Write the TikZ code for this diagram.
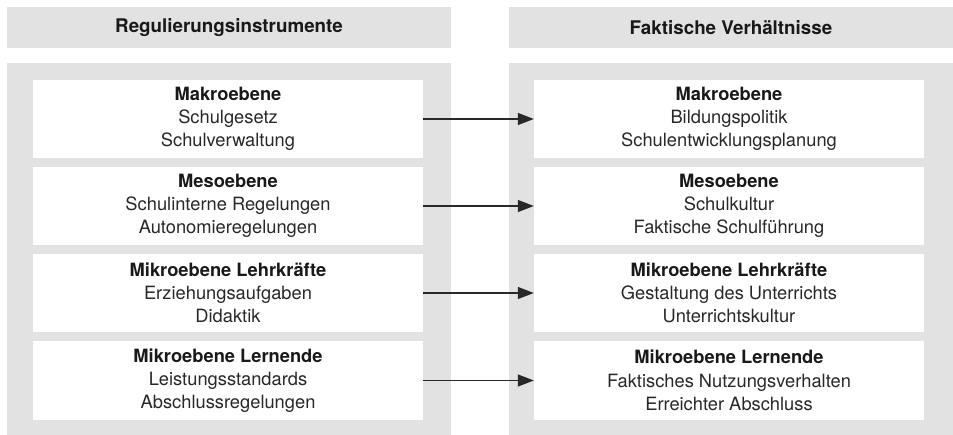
\documentclass[tikz,border=0pt]{standalone}
\usepackage{fontspec}
\setmainfont{TeX Gyre Heros}
\usetikzlibrary{arrows.meta}
\definecolor{panelgrey}{RGB}{226,226,226}
\definecolor{txtgrey}{RGB}{40,40,40}
\definecolor{arrowgrey}{RGB}{40,40,40}
\tikzset{
  panel/.style={fill=panelgrey, draw=none},
  headbox/.style={fill=panelgrey, draw=none, minimum width=444pt, minimum height=41pt, inner sep=0pt,
    font=\fontsize{18.8}{23}\selectfont\bfseries, text=black!90},
  levelbox/.style={fill=white, draw=none, minimum width=390pt, minimum height=78pt, inner sep=0pt,
    align=center, font=\fontsize{18.3}{23.2}\selectfont, text=txtgrey},
  link/.style={draw=arrowgrey, line width=1.3pt, -{Triangle[length=16pt,width=12pt]}}
}
\newcommand{\ttl}[1]{{\bfseries\color{black!90}#1}}
\begin{document}
\begin{tikzpicture}[x=1pt,y=-1pt]
\useasboundingbox (0,0) rectangle (953,435);
% headers
\node[headbox] (hl) at (229,27.5) {Regulierungsinstrumente};
\node[headbox] (hr) at (731,27.5) {Faktische Verhältnisse};
% column panels
\fill[panel] (7,63) rectangle (451,435);
\fill[panel] (509,63) rectangle (953,435);
% left boxes
\node[levelbox] (l1) at (228,119) {\ttl{Makroebene}\\Schulgesetz\\Schulverwaltung};
\node[levelbox] (l2) at (228,206) {\ttl{Mesoebene}\\Schulinterne Regelungen\\Autonomieregelungen};
\node[levelbox] (l3) at (228,293) {\ttl{Mikroebene Lehrkräfte}\\Erziehungsaufgaben\\Didaktik};
\node[levelbox] (l4) at (228,380.5) {\ttl{Mikroebene Lernende}\\Leistungsstandards\\Abschlussregelungen};
% right boxes
\node[levelbox] (r1) at (729,119) {\ttl{Makroebene}\\Bildungspolitik\\Schulentwicklungsplanung};
\node[levelbox] (r2) at (729,206) {\ttl{Mesoebene}\\Schulkultur\\Faktische Schulführung};
\node[levelbox] (r3) at (729,293) {\ttl{Mikroebene Lehrkräfte}\\Gestaltung des Unterrichts\\Unterrichtskultur};
\node[levelbox] (r4) at (729,380.5) {\ttl{Mikroebene Lernende}\\Faktisches Nutzungsverhalten\\Erreichter Abschluss};
% arrows
\draw[link] (l1.east) -- (r1.west);
\draw[link] (l2.east) -- (r2.west);
\draw[link] (l3.east) -- (r3.west);
\draw[link] (l4.east) -- (r4.west);
\end{tikzpicture}
\end{document}
